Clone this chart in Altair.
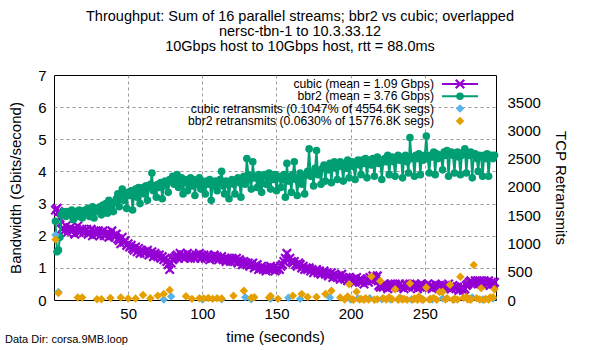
import altair as alt
import pandas as pd

# ---------------- data ----------------
t_sec = list(range(1, 298))

cubic_gbps = [
    2.80, 2.85, 2.75, 2.55, 2.20, 2.25, 2.15, 2.30, 2.10, 2.20,
    2.25, 2.15, 2.20, 2.05, 2.20, 2.30, 2.10, 2.15, 2.20, 2.10,
    2.15, 2.20, 2.05, 2.10, 2.20, 2.00, 2.15, 2.10, 2.05, 2.15,
    2.00, 2.10, 2.15, 2.00, 2.05, 2.10, 1.95, 2.05, 2.15, 2.00,
    1.95, 2.05, 1.90, 1.85, 1.75, 1.95, 1.80, 1.85, 1.70, 1.75,
    1.65, 1.70, 1.60, 1.55, 1.65, 1.50, 1.60, 1.45, 1.55, 1.50,
    1.45, 1.50, 1.55, 1.40, 1.45, 1.50, 1.35, 1.45, 1.40, 1.35,
    1.40, 1.30, 1.35, 1.25, 1.30, 1.20, 1.10, 0.95, 1.15, 1.25,
    1.30, 1.35, 1.40, 1.30, 1.45, 1.35, 1.40, 1.30, 1.35, 1.45,
    1.35, 1.30, 1.40, 1.35, 1.30, 1.40, 1.35, 1.45, 1.30, 1.35,
    1.40, 1.30, 1.35, 1.40, 1.25, 1.35, 1.30, 1.40, 1.30, 1.35,
    1.25, 1.30, 1.35, 1.25, 1.30, 1.20, 1.30, 1.25, 1.20, 1.30,
    1.25, 1.20, 1.30, 1.15, 1.25, 1.20, 1.10, 1.20, 1.15, 1.10,
    1.15, 1.05, 1.10, 1.15, 1.00, 1.05, 1.10, 0.95, 1.00, 1.05,
    0.95, 1.00, 0.90, 1.00, 0.95, 1.05, 0.95, 1.00, 0.90, 0.95,
    1.00, 0.95, 1.05, 1.10, 1.20, 1.30, 1.45, 1.25, 1.30, 1.20,
    1.15, 1.20, 1.10, 1.05, 1.15, 1.10, 1.00, 1.05, 0.95, 1.00,
    0.95, 1.00, 0.90, 0.95, 0.85, 0.90, 0.95, 0.85, 0.90, 0.80,
    0.85, 0.90, 0.80, 0.85, 0.75, 0.80, 0.85, 0.70, 0.80, 0.75,
    0.70, 0.75, 0.65, 0.80, 0.70, 0.65, 0.70, 0.60, 0.70, 0.65,
    0.60, 0.65, 0.55, 0.70, 0.60, 0.55, 0.65, 0.60, 0.50, 0.60,
    0.65, 0.55, 0.70, 0.60, 0.75, 0.70, 0.65, 0.75, 0.45, 0.40,
    0.45, 0.40, 0.50, 0.45, 0.35, 0.45, 0.50, 0.40, 0.45, 0.50,
    0.40, 0.45, 0.50, 0.40, 0.45, 0.35, 0.50, 0.45, 0.40, 0.50,
    0.45, 0.40, 0.50, 0.45, 0.35, 0.45, 0.40, 0.50, 0.45, 0.40,
    0.45, 0.50, 0.40, 0.45, 0.35, 0.40, 0.50, 0.45, 0.40, 0.45,
    0.40, 0.45, 0.35, 0.45, 0.40, 0.50, 0.40, 0.35, 0.45, 0.40,
    0.35, 0.40, 0.30, 0.35, 0.40, 0.30, 0.35, 0.45, 0.50, 0.55,
    0.60, 0.55, 0.50, 0.60, 0.55, 0.50, 0.60, 0.55, 0.50, 0.60,
    0.55, 0.50, 0.60, 0.45, 0.55, 0.50, 0.55,
]

bbr2_gbps = [
    2.45, 1.50, 1.55, 1.95, 2.65, 2.75, 2.70, 2.60, 2.75, 2.70,
    2.65, 2.80, 2.50, 2.70, 2.75, 2.60, 2.80, 2.70, 2.55, 2.75,
    2.80, 2.70, 2.85, 2.60, 2.75, 2.90, 2.55, 2.80, 2.85, 2.75,
    2.90, 2.65, 2.95, 2.85, 3.00, 2.70, 3.10, 2.90, 2.95, 2.75,
    3.05, 3.15, 3.30, 2.90, 3.20, 3.45, 3.10, 3.30, 2.85, 3.35,
    3.25, 3.40, 2.80, 3.30, 3.45, 3.20, 3.50, 3.00, 3.40, 3.50,
    3.30, 3.55, 3.10, 3.50, 3.60, 3.95, 3.40, 3.55, 3.20, 3.60,
    3.50, 3.65, 3.15, 3.55, 3.70, 3.60, 3.35, 3.75, 3.70, 3.85,
    3.60, 3.75, 3.90, 3.50, 3.70, 3.80, 3.30, 3.75, 3.65, 3.40,
    3.70, 3.80, 3.55, 3.75, 3.25, 3.70, 3.60, 3.80, 3.45, 3.70,
    3.55, 3.30, 3.70, 3.60, 3.75, 3.10, 3.65, 3.55, 3.70, 3.40,
    3.60, 3.75, 4.00, 3.55, 3.30, 3.70, 3.60, 3.15, 3.65, 3.75,
    3.60, 3.30, 3.70, 3.80, 3.65, 3.20, 3.75, 3.85, 3.60, 4.40,
    3.90, 3.75, 3.45, 4.30, 3.80, 3.85, 3.50, 3.90, 3.70, 3.35,
    3.85, 3.90, 3.60, 3.80, 3.95, 3.45, 3.85, 3.75, 3.90, 3.40,
    3.80, 3.85, 3.50, 3.75, 3.90, 3.20, 4.25, 3.70, 3.85, 3.35,
    3.90, 4.30, 3.75, 3.25, 3.80, 3.95, 3.60, 3.85, 3.30, 3.90,
    4.00, 4.70, 3.85, 3.95, 3.55, 4.10, 4.65, 3.90, 4.00, 3.60,
    4.10, 4.20, 3.70, 4.15, 4.05, 4.25, 3.65, 4.20, 4.30, 4.10,
    3.75, 4.20, 4.30, 4.15, 3.70, 4.25, 4.10, 4.35, 3.80, 4.20,
    4.30, 4.15, 3.75, 4.30, 4.35, 4.20, 3.90, 4.35, 4.25, 4.40,
    3.80, 4.30, 4.35, 4.20, 4.40, 3.85, 4.30, 4.45, 4.25, 4.35,
    3.75, 4.30, 4.40, 4.30, 4.50, 3.90, 4.35, 4.45, 4.30, 3.85,
    4.40, 4.50, 4.35, 4.45, 3.80, 4.40, 4.50, 4.30, 3.95, 5.05,
    4.40, 4.45, 3.85, 4.50, 4.40, 4.55, 3.90, 4.45, 4.35, 4.50,
    5.10, 4.40, 3.95, 4.50, 4.45, 4.60, 3.90, 4.55, 4.40, 4.50,
    4.45, 4.05, 4.60, 4.50, 4.65, 3.85, 4.55, 4.60, 4.50, 3.95,
    4.55, 4.60, 4.45, 3.90, 4.50, 4.60, 4.70, 3.95, 4.55, 4.50,
    4.60, 3.80, 4.50, 4.55, 4.40, 4.00, 4.50, 4.45, 3.85, 4.50,
    4.40, 4.55, 3.85, 4.45, 4.50, 4.40, 4.50,
]

cubic_rtx_t = [1, 3, 74, 79, 100, 113, 129, 133, 146, 158, 166, 186, 200, 205,
               213, 221, 227, 234, 241, 248, 255, 262, 270, 282, 289, 296]
cubic_rtx = [1150, 140, 10, 60, 10, 15, 50, 15, 20, 40, 20, 45, 10, 25,
             30, 15, 10, 25, 10, 20, 10, 30, 15, 45, 10, 25]

bbr2_rtx_t = [1, 3, 16, 19, 29, 32, 38, 45, 50, 55, 60, 65, 70, 74, 78, 89, 93, 98,
              101, 104, 107, 110, 113, 121, 128, 133, 135, 145, 146, 151, 161, 167,
              171, 177, 183, 187, 193, 196, 198, 199, 201, 202, 204, 206, 207, 209,
              210, 212, 214, 216, 218, 220, 222, 224, 226, 228, 230, 232, 233, 235,
              236, 238, 240, 242, 243, 245, 246, 248, 249, 251, 253, 254, 256, 258,
              260, 262, 264, 265, 267, 269, 270, 272, 274, 276, 278, 279, 280, 281,
              283, 285, 287, 288, 290, 291, 293, 294, 296, 297]
bbr2_rtx = [1070, 125, 45, 45, 15, 15, 35, 45, 25, 25, 90, 30, 75, 105, 175, 65, 20, 30,
            25, 35, 20, 30, 25, 75, 165, 40, 50, 45, 70, 20, 75, 105,
            55, 55, 105, 165, 45, 10, 60, 280, 15, 5, 145, 10, 20, 5,
            30, 10, 415, 5, 15, 335, 30, 10, 50, 15, 190, 5, 40, 10,
            20, 5, 290, 10, 25, 5, 60, 10, 5, 220, 10, 20, 35, 5,
            140, 145, 10, 30, 270, 5, 20, 10, 410, 40, 55, 10, 25, 5,
            620, 30, 10, 210, 5, 20, 10, 45, 50, 190]

legend_labels = [
    "cubic (mean = 1.09 Gbps)",
    "bbr2 (mean = 3.76 Gbps)",
    "cubic retransmits (0.1047% of 4554.6K segs)",
    "bbr2 retransmits (0.0630% of 15776.8K segs)",
]

title_lines = [
    "Throughput: Sum of 16 parallel streams; bbr2 vs cubic; overlapped",
    "nersc-tbn-1 to 10.3.33.12",
    "10Gbps host to 10Gbps host, rtt = 88.0ms",
]

x_ticks = [50, 100, 150, 200, 250]
y_ticks = [0, 1, 2, 3, 4, 5, 6, 7]
y2_ticks = [0, 500, 1000, 1500, 2000, 2500, 3000, 3500]

assert len(cubic_gbps) == len(t_sec) and len(bbr2_gbps) == len(t_sec)
assert len(cubic_rtx) == len(cubic_rtx_t) and len(bbr2_rtx) == len(bbr2_rtx_t)

# ---------------- style ----------------
FONT = "Liberation Sans"
PURPLE, GREEN, BLUE, ORANGE = "#9400d3", "#009e73", "#56b4e9", "#e69f00"
W, H = 442, 225
X_SHAPE = "M-1,-1L1,1M-1,1L1,-1"

cubic_df = pd.DataFrame({"t": t_sec, "v": cubic_gbps})
bbr2_df = pd.DataFrame({"t": t_sec, "v": bbr2_gbps})
crtx_df = pd.DataFrame({"t": cubic_rtx_t, "r": cubic_rtx})
brtx_df = pd.DataFrame({"t": bbr2_rtx_t, "r": bbr2_rtx})
one = pd.DataFrame({"k": [0]})

common_axis = dict(
    ticks=False, domain=False, labelOverlap=False, labelFontSize=15,
    titleFontSize=15, labelFont=FONT, titleFont=FONT, titleFontWeight="normal",
    labelColor="black", titleColor="black",
)

x_enc = alt.X(
    "t:Q",
    scale=alt.Scale(domain=[0, 298], nice=False, zero=False),
    axis=alt.Axis(
        title="time (seconds)", values=x_ticks, grid=True, gridDash=[3, 3],
        gridColor="#9a9a9a", labelPadding=6, titlePadding=8, format="d",
        **common_axis,
    ),
)

y_scale = alt.Scale(domain=[0, 7], nice=False, zero=True)
y_axis = alt.Axis(
    title="Bandwidth (Gbits/second)", values=y_ticks, tickCount=8, grid=True,
    gridDash=[3, 3], gridColor="#9a9a9a", format="d",
    gridOpacity={"condition": {"test": "datum.value == 0 || datum.value == 7", "value": 0}, "value": 1},
    labelPadding=8, titlePadding=14, **common_axis,
)

MS_X, MS_C, MS_D = 72, 58, 72


def x_marker(data_chart_encode):
    return data_chart_encode


cubic_line = alt.Chart(cubic_df).mark_line(color=PURPLE, strokeWidth=2).encode(
    x=x_enc, y=alt.Y("v:Q", scale=y_scale, axis=y_axis))
cubic_pts = alt.Chart(cubic_df).mark_point(
    shape=X_SHAPE, filled=False, size=MS_X, color=PURPLE, strokeWidth=2.2, opacity=1
).encode(x="t:Q", y=alt.Y("v:Q", scale=y_scale))
bbr2_line = alt.Chart(bbr2_df).mark_line(color=GREEN, strokeWidth=2).encode(
    x="t:Q", y=alt.Y("v:Q", scale=y_scale))
bbr2_pts = alt.Chart(bbr2_df).mark_point(
    shape="circle", filled=True, size=MS_C, color=GREEN, opacity=1
).encode(x="t:Q", y=alt.Y("v:Q", scale=y_scale))

left = alt.layer(cubic_line, cubic_pts, bbr2_line, bbr2_pts)

y2_scale = alt.Scale(domain=[0, 3980], nice=False, zero=True)
y2_axis = alt.Axis(
    orient="right", title="TCP Retransmits", values=y2_ticks, tickCount=8,
    grid=False, format="d", labelPadding=11, titlePadding=12, **common_axis,
)
crtx = alt.Chart(crtx_df).mark_point(
    shape="diamond", filled=True, size=MS_D, color=BLUE, opacity=1
).encode(x="t:Q", y=alt.Y("r:Q", scale=y2_scale, axis=y2_axis))
brtx = alt.Chart(brtx_df).mark_point(
    shape="diamond", filled=True, size=MS_D, color=ORANGE, opacity=1
).encode(x="t:Q", y=alt.Y("r:Q", scale=y2_scale))
right = alt.layer(crtx, brtx)

# ---------------- manual gnuplot-style legend (label left, sample right) ----------------
LX_TEXT, LX0, LX1, LXM = 380, 388, 424, 406
rows_y = [9, 21.3, 33.6, 45.9]
leg = []
for lab, yy in zip(legend_labels, rows_y):
    leg.append(alt.Chart(one).mark_text(
        align="right", baseline="middle", font=FONT, fontSize=12.2, color="black"
    ).encode(x=alt.value(LX_TEXT), y=alt.value(yy), text=alt.value(lab)))
leg.append(alt.Chart(one).mark_rule(color=PURPLE, strokeWidth=2).encode(
    x=alt.value(LX0), x2=alt.value(LX1), y=alt.value(rows_y[0])))
leg.append(alt.Chart(one).mark_point(shape=X_SHAPE, filled=False, size=MS_X,
                                     strokeWidth=2.2, color=PURPLE, opacity=1).encode(
    x=alt.value(LXM), y=alt.value(rows_y[0])))
leg.append(alt.Chart(one).mark_rule(color=GREEN, strokeWidth=2).encode(
    x=alt.value(LX0), x2=alt.value(LX1), y=alt.value(rows_y[1])))
leg.append(alt.Chart(one).mark_point(shape="circle", filled=True, size=MS_C,
                                     color=GREEN, opacity=1).encode(
    x=alt.value(LXM), y=alt.value(rows_y[1])))
leg.append(alt.Chart(one).mark_point(shape="diamond", filled=True, size=MS_D,
                                     color=BLUE, opacity=1).encode(
    x=alt.value(LXM), y=alt.value(rows_y[2])))
leg.append(alt.Chart(one).mark_point(shape="diamond", filled=True, size=MS_D,
                                     color=ORANGE, opacity=1).encode(
    x=alt.value(LXM), y=alt.value(rows_y[3])))
legend = alt.layer(*leg)

footer = alt.Chart(one).mark_text(
    align="left", baseline="middle", font=FONT, fontSize=11, color="black"
).encode(x=alt.value(-49), y=alt.value(265), text=alt.value("Data Dir: corsa.9MB.loop"))

chart = alt.layer(left, right, legend, footer).resolve_scale(y="independent").properties(
    width=W, height=H,
    autosize=alt.AutoSizeParams(type="none"),
    padding={"left": 54, "top": 75, "right": 104, "bottom": 50},
    title=alt.TitleParams(
        text=title_lines, fontSize=14.5, font=FONT, fontWeight="normal",
        anchor="middle", frame="group", dx=25, offset=14, lineHeight=15,
        color="black",
    ),
    background="white",
).configure_view(stroke="black", strokeWidth=1)

chart.save("out.html", embed_options={"renderer": "svg", "actions": False})
